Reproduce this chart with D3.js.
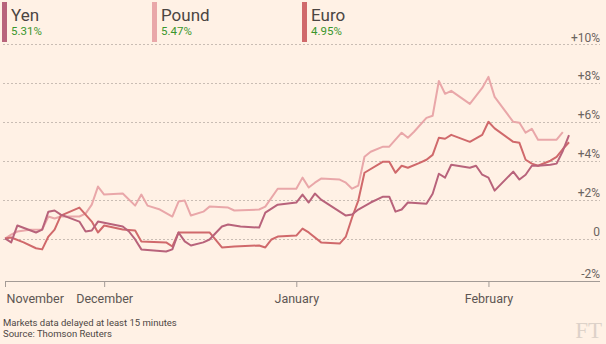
<!DOCTYPE html>
<html>
<head>
<meta charset="utf-8">
<script src="https://cdn.jsdelivr.net/npm/d3@7"></script>
<style>
  html, body { margin: 0; padding: 0; background: #fff1e5; }
  svg { display: block; font-family: Roboto, "Noto Sans", sans-serif; }
</style>
</head>
<body>
<svg id="chart" width="606" height="344"></svg>
<script>
// Currency performance, % change since mid-November
const seriesNames = ["Yen", "Pound", "Euro"];
const seriesColors = ["#b8637b", "#e9a7a9", "#d0696b"];

const yen = [
  ["2016-11-15", 0], ["2016-11-16", -0.2], ["2016-11-17", 0.67], ["2016-11-20", 0.31],
  ["2016-11-21", 0.46], ["2016-11-22", 1.38], ["2016-11-23", 1.44], ["2016-11-24", 1.23],
  ["2016-11-27", 0.87], ["2016-11-28", 0.36], ["2016-11-29", 0.41], ["2016-11-30", 0.87],
  ["2016-12-04", 0.62], ["2016-12-05", 0.36], ["2016-12-06", -0.05], ["2016-12-07", -0.56],
  ["2016-12-11", -0.67], ["2016-12-12", -0.56], ["2016-12-13", 0.31], ["2016-12-14", -0.15],
  ["2016-12-15", -0.36], ["2016-12-17", -0.2], ["2016-12-18", -0.05], ["2016-12-20", 0.62],
  ["2016-12-21", 0.72], ["2016-12-23", 0.62], ["2016-12-26", 0.56], ["2016-12-27", 1.33],
  ["2016-12-29", 1.74], ["2017-01-01", 1.85], ["2017-01-02", 2.26], ["2017-01-03", 1.85],
  ["2017-01-04", 2.31], ["2017-01-05", 2.0], ["2017-01-09", 1.18], ["2017-01-10", 1.23],
  ["2017-01-11", 1.49], ["2017-01-13", 1.85], ["2017-01-15", 2.15], ["2017-01-16", 2.15],
  ["2017-01-17", 1.38], ["2017-01-18", 1.49], ["2017-01-19", 1.85], ["2017-01-22", 1.79],
  ["2017-01-23", 2.3], ["2017-01-24", 3.33], ["2017-01-25", 3.13], ["2017-01-26", 3.79],
  ["2017-01-29", 3.64], ["2017-01-30", 3.74], ["2017-01-31", 3.28], ["2017-02-01", 3.13],
  ["2017-02-02", 2.46], ["2017-02-05", 3.44], ["2017-02-06", 3.03], ["2017-02-07", 3.28],
  ["2017-02-08", 3.74], ["2017-02-09", 3.74], ["2017-02-11", 3.79], ["2017-02-12", 3.85],
  ["2017-02-13", 4.5], ["2017-02-14", 5.31]
];

const pound = [
  ["2016-11-15", 0], ["2016-11-16", 0.2], ["2016-11-17", 0.36], ["2016-11-19", 0.45],
  ["2016-11-21", 0.46], ["2016-11-22", 1.13], ["2016-11-23", 1.03], ["2016-11-24", 1.13],
  ["2016-11-27", 1.13], ["2016-11-28", 1.28], ["2016-11-29", 1.74], ["2016-11-30", 2.67],
  ["2016-12-01", 2.26], ["2016-12-04", 2.31], ["2016-12-06", 1.69], ["2016-12-07", 2.26],
  ["2016-12-08", 1.69], ["2016-12-10", 1.49], ["2016-12-12", 1.13], ["2016-12-13", 1.9],
  ["2016-12-14", 1.95], ["2016-12-15", 1.18], ["2016-12-17", 1.38], ["2016-12-18", 1.64],
  ["2016-12-21", 1.59], ["2016-12-22", 1.44], ["2016-12-26", 1.49], ["2016-12-27", 1.64],
  ["2016-12-29", 2.56], ["2017-01-01", 2.56], ["2017-01-02", 3.13], ["2017-01-03", 2.62],
  ["2017-01-04", 2.87], ["2017-01-05", 3.08], ["2017-01-08", 3.03], ["2017-01-09", 2.87],
  ["2017-01-10", 2.56], ["2017-01-11", 2.72], ["2017-01-12", 4.2], ["2017-01-13", 4.46],
  ["2017-01-15", 4.72], ["2017-01-16", 4.72], ["2017-01-18", 5.44], ["2017-01-19", 5.18],
  ["2017-01-20", 5.49], ["2017-01-22", 6.2], ["2017-01-23", 6.31], ["2017-01-24", 8.1],
  ["2017-01-25", 7.44], ["2017-01-26", 7.59], ["2017-01-29", 6.92], ["2017-01-30", 7.33],
  ["2017-01-31", 7.74], ["2017-02-01", 8.31], ["2017-02-02", 7.28], ["2017-02-05", 6.0],
  ["2017-02-06", 5.95], ["2017-02-07", 5.44], ["2017-02-08", 5.64], ["2017-02-09", 5.08],
  ["2017-02-12", 5.08], ["2017-02-13", 5.47]
];

const euro = [
  ["2016-11-15", 0], ["2016-11-16", 0.05], ["2016-11-18", -0.2], ["2016-11-20", -0.5],
  ["2016-11-21", -0.56], ["2016-11-22", 0.1], ["2016-11-23", 0.46], ["2016-11-24", 1.18],
  ["2016-11-27", 1.59], ["2016-11-29", 0.87], ["2016-11-30", 0.31], ["2016-12-01", 0.67],
  ["2016-12-04", 0.46], ["2016-12-06", 0.41], ["2016-12-07", -0.15], ["2016-12-11", -0.2],
  ["2016-12-12", -0.41], ["2016-12-13", 0.31], ["2016-12-14", 0.31], ["2016-12-18", 0.31],
  ["2016-12-20", -0.46], ["2016-12-22", -0.41], ["2016-12-26", -0.36], ["2016-12-27", -0.46],
  ["2016-12-28", -0.05], ["2016-12-29", 0.1], ["2017-01-01", 0.15], ["2017-01-02", 0.51],
  ["2017-01-03", 0.31], ["2017-01-05", -0.2], ["2017-01-08", -0.26], ["2017-01-09", 0.1],
  ["2017-01-10", 1.08], ["2017-01-11", 1.95], ["2017-01-12", 3.38], ["2017-01-15", 3.95],
  ["2017-01-16", 3.95], ["2017-01-17", 3.38], ["2017-01-18", 3.74], ["2017-01-19", 3.64],
  ["2017-01-21", 3.9], ["2017-01-22", 4.05], ["2017-01-23", 4.3], ["2017-01-24", 5.18],
  ["2017-01-25", 5.13], ["2017-01-26", 5.33], ["2017-01-29", 4.97], ["2017-01-31", 5.33],
  ["2017-02-01", 6.0], ["2017-02-02", 5.66], ["2017-02-05", 4.97], ["2017-02-06", 4.92],
  ["2017-02-07", 4.05], ["2017-02-08", 3.85], ["2017-02-09", 3.74], ["2017-02-11", 4.0],
  ["2017-02-12", 4.2], ["2017-02-13", 4.6], ["2017-02-14", 4.95]
];

const yTicks = [10, 8, 6, 4, 2, 0, -2];
const monthTicks = ["2016-11-15", "2016-12-01", "2017-01-01", "2017-02-01"];
const monthLabels = ["November", "December", "January", "February"];
const notes = ["Markets data delayed at least 15 minutes", "Source: Thomson Reuters"];

const seriesData = [yen, pound, euro];
const parse = d3.utcParse("%Y-%m-%d");

const svg = d3.select("#chart");
const axisY = 281;

const x = d3.scaleUtc()
  .domain([parse("2016-11-15"), parse("2017-02-19")])
  .range([5, 600]);
const y = d3.scaleLinear().domain([-2, 10]).range([277.4, 44]);

// Gridlines with labels sitting just above them
const grid = svg.append("g");
yTicks.filter(v => v > -2).forEach(v => {
  grid.append("line")
    .attr("x1", 3).attr("x2", 600)
    .attr("y1", Math.round(y(v)) + 0.5).attr("y2", Math.round(y(v)) + 0.5)
    .attr("stroke", "#c9bdb4").attr("stroke-width", 1)
    .attr("stroke-dasharray", "2,2");
});
const fmtTick = v => v > 0 ? "+" + v + "%" : (v === 0 ? "0" : "-" + Math.abs(v) + "%");
yTicks.forEach(v => {
  grid.append("text")
    .attr("x", 600)
    .attr("y", v === -2 ? axisY - 3 : y(v) - 2.5)
    .attr("text-anchor", "end")
    .attr("font-size", 12)
    .attr("fill", "#6b6460")
    .text(fmtTick(v));
});

// Legend
const legend = svg.append("g");
seriesNames.forEach((name, i) => {
  const lx = 2 + 150 * i;
  const last = seriesData[i][seriesData[i].length - 1][1];
  legend.append("rect")
    .attr("x", lx).attr("y", 2).attr("width", 5).attr("height", 40)
    .attr("fill", seriesColors[i]);
  legend.append("text")
    .attr("x", lx + 9).attr("y", 21)
    .attr("font-size", 17).attr("fill", "#4b4542")
    .text(name);
  legend.append("text")
    .attr("x", lx + 9).attr("y", 35)
    .attr("font-size", 11.5).attr("fill", "#3a962d")
    .text(last.toFixed(2) + "%");
});

// X axis
const xAxis = d3.axisBottom(x)
  .tickValues(monthTicks.map(parse))
  .tickSize(6)
  .tickSizeOuter(0)
  .tickFormat((d, i) => monthLabels[i]);
const gx = svg.append("g").attr("transform", `translate(0,${axisY})`).call(xAxis);
gx.select(".domain").attr("stroke", "#a39b96").attr("d", "M5,0.5H600");
gx.selectAll(".tick line").attr("stroke", "#a39b96");
gx.selectAll(".tick text")
  .attr("y", 22).attr("dy", 0)
  .attr("font-size", 12.5)
  .attr("font-family", "Roboto, sans-serif")
  .attr("fill", "#5d5653")
  .attr("text-anchor", (d, i) => i === 0 ? "start" : "middle")
  .attr("x", (d, i) => i === 0 ? 1 : 0);

// Lines
const line = d3.line()
  .x(d => x(parse(d[0])))
  .y(d => y(d[1]));
const drawOrder = [1, 2, 0];
drawOrder.forEach(i => {
  svg.append("path")
    .datum(seriesData[i])
    .attr("d", line)
    .attr("fill", "none")
    .attr("stroke", seriesColors[i])
    .attr("stroke-width", 2)
    .attr("stroke-linejoin", "round");
});

// Footnotes
notes.forEach((t, i) => {
  svg.append("text")
    .attr("x", 3).attr("y", 326 + i * 11)
    .attr("font-size", 9.5).attr("fill", "#4d4744")
    .text(t);
});

// FT mark
svg.append("text")
  .attr("x", 602).attr("y", 338)
  .attr("text-anchor", "end")
  .attr("font-family", "'Liberation Serif', 'DejaVu Serif', serif")
  .attr("font-size", 23)
  .attr("fill", "#ddd2c9")
  .text("FT");
</script>
</body>
</html>
